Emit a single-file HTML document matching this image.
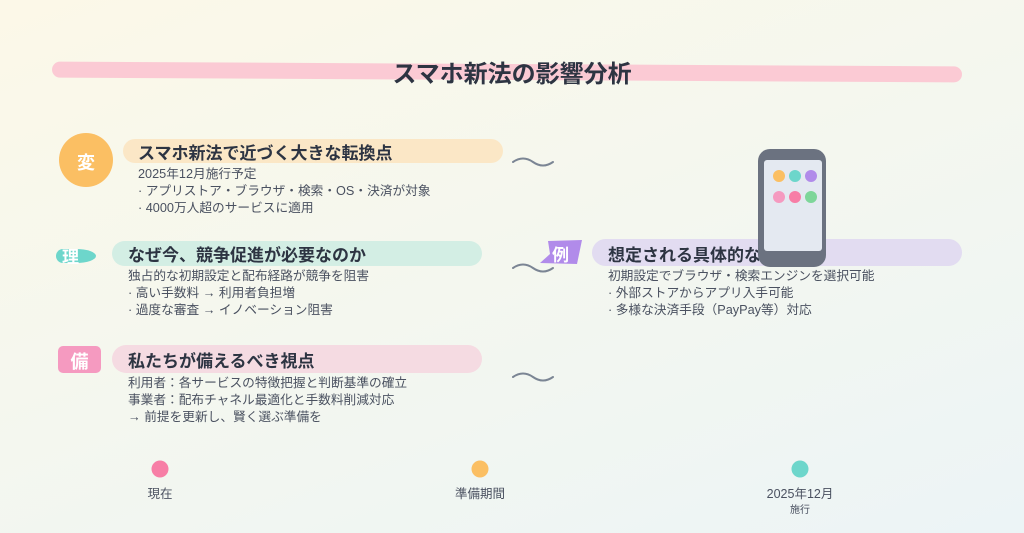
<!DOCTYPE html>
<html><head><meta charset="utf-8"><style>
body{margin:0;width:1024px;height:533px;overflow:hidden;font-family:"Liberation Sans","Noto Sans CJK JP",sans-serif;}
#c{position:relative;width:1024px;height:533px;background:linear-gradient(160deg,#fcf8e8 0%,#f4f7ef 50%,#ecf4f6 100%);}
.a{position:absolute;white-space:nowrap;}
.t{font-weight:bold;color:#2d3442;font-size:17px;}
.b{font-size:12.7px;color:#4a5160;line-height:16.8px;}
.band{position:absolute;border-radius:14px;}
.tl{font-size:12.5px;color:#4a5160;}
</style></head><body><div id="c">
<div class="band" style="left:52px;top:64px;width:910px;height:16px;background:#fbcad4;border-radius:8px;transform:rotate(0.3deg)"></div>
<div class="a t" style="left:0;width:1024px;text-align:center;top:54px;font-size:24px;">スマホ新法の影響分析</div>

<div class="a" style="left:59px;top:133px;width:54px;height:54px;border-radius:50%;background:#fbbf63"></div>
<div class="a" style="left:59px;top:149px;width:54px;text-align:center;color:#fff;font-weight:bold;font-size:18px">変</div>
<div class="band" style="left:123px;top:139px;width:380px;height:24px;background:#fbe7c6"></div>
<div class="a t" style="left:138px;top:139px">スマホ新法で近づく大きな転換点</div>
<div class="a b" style="left:138px;top:166px">2025年12月施行予定<br>· アプリストア・ブラウザ・検索・OS・決済が対象<br>· 4000万人超のサービスに適用</div>

<div class="a" style="left:56px;top:249px;width:40px;height:14px;border-radius:7px 50% 50% 7px;background:#6dd6cb"></div>
<div class="a" style="left:62px;top:243px;color:#fff;font-weight:bold;font-size:17px">理</div>
<div class="band" style="left:112px;top:241px;width:370px;height:25px;background:#d3eee4"></div>
<div class="a t" style="left:128px;top:241px">なぜ今、競争促進が必要なのか</div>
<div class="a b" style="left:128px;top:268px">独占的な初期設定と配布経路が競争を阻害<br>· 高い手数料 → 利用者負担増<br>· 過度な審査 → イノベーション阻害</div>

<div class="a" style="left:58px;top:346px;width:43px;height:27px;border-radius:5px;background:#f59ac0"></div>
<div class="a" style="left:58px;top:348px;width:43px;text-align:center;color:#fff;font-weight:bold;font-size:18px">備</div>
<div class="band" style="left:112px;top:345px;width:370px;height:28px;background:#f5dbe2"></div>
<div class="a t" style="left:128px;top:347px">私たちが備えるべき視点</div>
<div class="a b" style="left:128px;top:375px">利用者：各サービスの特徴把握と判断基準の確立<br>事業者：配布チャネル最適化と手数料削減対応<br>→ 前提を更新し、賢く選ぶ準備を</div>

<svg class="a" style="left:0;top:0" width="1024" height="533">
<g fill="none" stroke="#7b8594" stroke-width="2" stroke-linecap="round">
<path d="M513 162 q10 -7 20 0 q10 7 20 0"/>
<path d="M513 268 q10 -7 20 0 q10 7 20 0"/>
<path d="M513 377 q10 -7 20 0 q10 7 20 0"/>
</g>
<polygon points="548,241 582,240 577,264 540,263 550,254" fill="#b18bea"/>
</svg>
<div class="a" style="left:552px;top:241px;color:#fff;font-weight:bold;font-size:17px">例</div>
<div class="band" style="left:592px;top:239px;width:370px;height:27px;background:#e2dcf1"></div>
<div class="a t" style="left:608px;top:241px">想定される具体的な変化</div>
<div class="a b" style="left:608px;top:268px">初期設定でブラウザ・検索エンジンを選択可能<br>· 外部ストアからアプリ入手可能<br>· 多様な決済手段（PayPay等）対応</div>

<div class="a" style="left:758px;top:149px;width:68px;height:118px;border-radius:12px;background:#6b7280"></div>
<div class="a" style="left:764px;top:160px;width:58px;height:91px;border-radius:3px;background:#e4e9f1"></div>
<svg class="a" style="left:0;top:0" width="1024" height="533">
<circle cx="779" cy="176" r="6" fill="#fbbf63"/><circle cx="795" cy="176" r="6" fill="#6dd6cb"/><circle cx="811" cy="176" r="6" fill="#b18bea"/>
<circle cx="779" cy="197" r="6" fill="#f59ac0"/><circle cx="795" cy="197" r="6" fill="#f77ea6"/><circle cx="811" cy="197" r="6" fill="#7ed69a"/>
<circle cx="160" cy="469" r="8.5" fill="#f77ea6"/><circle cx="480" cy="469" r="8.5" fill="#fbbf63"/><circle cx="800" cy="469" r="8.5" fill="#6dd6cb"/>
</svg>
<div class="a tl" style="left:110px;width:100px;text-align:center;top:483px">現在</div>
<div class="a tl" style="left:430px;width:100px;text-align:center;top:483px">準備期間</div>
<div class="a tl" style="left:750px;width:100px;text-align:center;top:483px">2025年12月</div>
<div class="a" style="left:750px;width:100px;text-align:center;top:501px;font-size:10px;color:#4a5160">施行</div>
</div></body></html>
